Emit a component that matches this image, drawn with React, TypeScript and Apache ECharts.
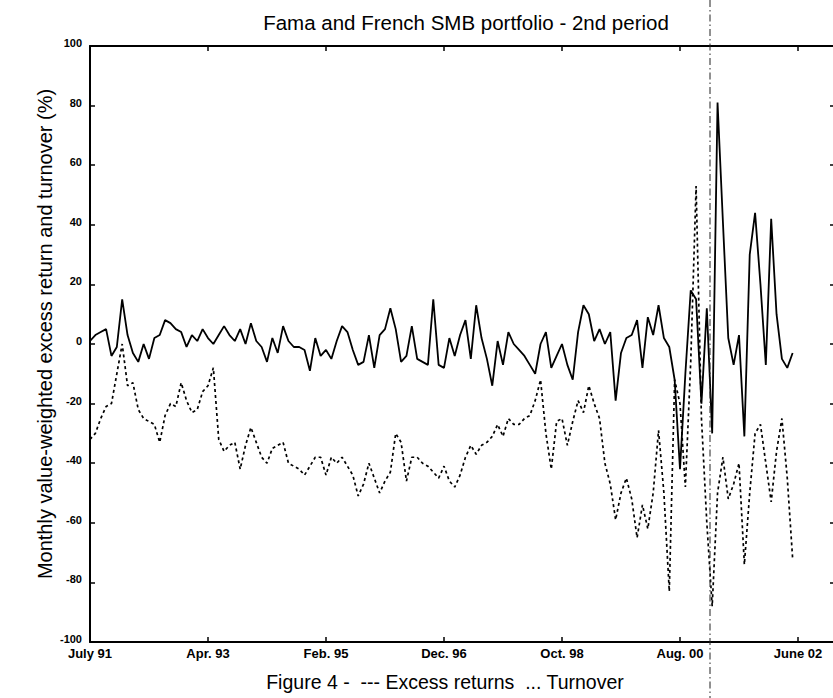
import React, { useEffect, useRef } from "react";
import * as echarts from "echarts";

// Month index 0 = July 1991; ticks every 22 months
const xTickLabels = ["July 91", "Apr. 93", "Feb. 95", "Dec. 96", "Oct. 98", "Aug. 00", "June 02"];

// Excess returns (solid line), % per month
const excessReturns = [
  1, 3, 4, 5, -4, -1, 15, 3, -3, -6,
  0, -5, 2, 3, 8, 7, 5, 4, -1, 3,
  1, 5, 2, 0, 3, 6, 3, 1, 5, 0,
  7, 1, -1, -6, 2, -3, 6, 1, -1, -1,
  -2, -9, 2, -4, -2, -5, 1, 6, 4, -2,
  -7, -6, 3, -8, 3, 5, 12, 5, -6, -4,
  6, -5, -6, -7, 15, -7, -8, 2, -4, 3,
  8, -5, 13, 2, -5, -14, 1, -7, 4, 0,
  -2, -4, -7, -10, 0, 4, -8, -4, 0, -7,
  -12, 4, 13, 10, 1, 5, 0, 4, -19, -3,
  2, 3, 8, -8, 9, 3, 13, 2, -1, -12,
  -42, -10, 18, 15, -20, 12, -30, 81, 41, 2,
  -7, 3, -31, 30, 44, 20, -7, 42, 10, -5,
  -8, -3,
];

// Turnover (dotted line), %
const turnover = [
  -32, -30, -25, -21, -20, -10, 0, -14, -13, -22,
  -25, -26, -27, -33, -24, -20, -21, -13, -19, -23,
  -22, -16, -14, -8, -32, -36, -34, -33, -42, -34,
  -28, -33, -38, -40, -35, -34, -33, -40, -41, -42,
  -44, -41, -38, -38, -44, -38, -40, -38, -41, -44,
  -51, -47, -40, -45, -50, -46, -43, -30, -33, -46,
  -38, -38, -40, -41, -43, -45, -41, -46, -48, -44,
  -38, -34, -37, -34, -33, -31, -27, -31, -25, -27,
  -27, -25, -24, -19, -12, -30, -42, -26, -25, -34,
  -26, -19, -23, -14, -20, -25, -40, -47, -59, -50,
  -45, -52, -65, -54, -62, -50, -29, -50, -83, -12,
  -20, -48, -6, 53, -25, -60, -88, -50, -38, -52,
  -47, -40, -74, -50, -30, -27, -40, -53, -36, -25,
  -45, -72,
];

const FONT = '"Liberation Sans", Arial, Helvetica, sans-serif';

export default function App() {
  const ref = useRef<HTMLDivElement>(null);
  useEffect(() => {
    if (!ref.current) return;
    const chart = echarts.init(ref.current, null, { renderer: "svg" });
    const gridLeft = 90;
    const gridTop = 46;
    const gridWidth = 745;
    const gridHeight = 596;
    const tickStep = 22;
    const pxPerMonth = 118 / tickStep;
    const xMax = gridWidth / pxPerMonth;

    const xFormatter = (v: number) => {
      const k = Math.round(v / tickStep);
      return Math.abs(v - k * tickStep) < 1e-6 && k < xTickLabels.length ? xTickLabels[k] : "";
    };

    const axisLine = { show: true, onZero: false, lineStyle: { color: "#000", width: 2 } };
    const axisTick = { show: true, inside: true, length: 5, lineStyle: { color: "#000", width: 1.5 } };

    chart.setOption({
      animation: false,
      backgroundColor: "#fff",
      grid: {
        left: gridLeft,
        top: gridTop,
        width: gridWidth,
        height: gridHeight,
        outerBoundsMode: "none",
      },
      xAxis: [
        {
          type: "value",
          min: 0,
          max: xMax,
          interval: tickStep,
          position: "bottom",
          axisLine,
          axisTick,
          splitLine: { show: false },
          axisLabel: {
            formatter: xFormatter,
            color: "#000",
            fontFamily: FONT,
            fontWeight: "bold",
            fontSize: 13,
            margin: 5,
          },
        },
        {
          type: "value",
          min: 0,
          max: xMax,
          interval: tickStep,
          position: "top",
          axisLine,
          axisTick,
          splitLine: { show: false },
          axisLabel: { show: false },
        },
      ],
      yAxis: [
        {
          type: "value",
          min: -100,
          max: 100,
          interval: 20,
          position: "left",
          axisLine,
          axisTick,
          splitLine: { show: false },
          axisLabel: {
            color: "#000",
            fontFamily: FONT,
            fontWeight: "bold",
            fontSize: 11,
            margin: 8,
            verticalAlign: "bottom",
            lineHeight: 6,
          },
        },
        {
          type: "value",
          min: -100,
          max: 100,
          interval: 20,
          position: "right",
          axisLine,
          axisTick,
          splitLine: { show: false },
          axisLabel: { show: false },
        },
      ],
      series: [
        {
          name: "Excess returns",
          type: "line",
          xAxisIndex: 0,
          yAxisIndex: 0,
          data: excessReturns.map((v, i) => [i, v]),
          symbol: "none",
          showSymbol: false,
          lineStyle: { color: "#000", width: 1.8 },
          z: 3,
        },
        {
          name: "Turnover",
          type: "line",
          xAxisIndex: 0,
          yAxisIndex: 0,
          data: turnover.map((v, i) => [i, v]),
          symbol: "none",
          showSymbol: false,
          lineStyle: { color: "#000", width: 1.7, type: [3, 3] },
          z: 2,
        },
      ],
      graphic: [
        {
          type: "text",
          x: 466,
          y: 22,
          style: {
            text: "Fama and French SMB portfolio - 2nd period",
            fontFamily: FONT,
            fontSize: 20.5,
            fill: "#000",
            align: "center",
            verticalAlign: "middle",
          },
        },
        {
          type: "text",
          x: 45,
          y: 334,
          rotation: Math.PI / 2,
          style: {
            text: "Monthly value-weighted excess return and turnover (%)",
            fontFamily: FONT,
            fontSize: 20,
            fill: "#000",
            align: "center",
            verticalAlign: "middle",
          },
        },
        {
          type: "text",
          x: 445,
          y: 682,
          style: {
            text: "Figure 4 -  --- Excess returns  ... Turnover",
            fontFamily: FONT,
            fontSize: 19.5,
            fill: "#000",
            align: "center",
            verticalAlign: "middle",
          },
        },
        {
          type: "line",
          shape: { x1: 710, y1: 0, x2: 710, y2: 698 },
          style: { stroke: "#222", lineWidth: 1, lineDash: [7, 3, 1.5, 3] },
          z: 10,
        },
      ],
    });
    return () => chart.dispose();
  }, []);
  return (
    <div
      ref={ref}
      style={{ position: "fixed", left: 0, top: 0, width: 833, height: 698 }}
    />
  );
}
